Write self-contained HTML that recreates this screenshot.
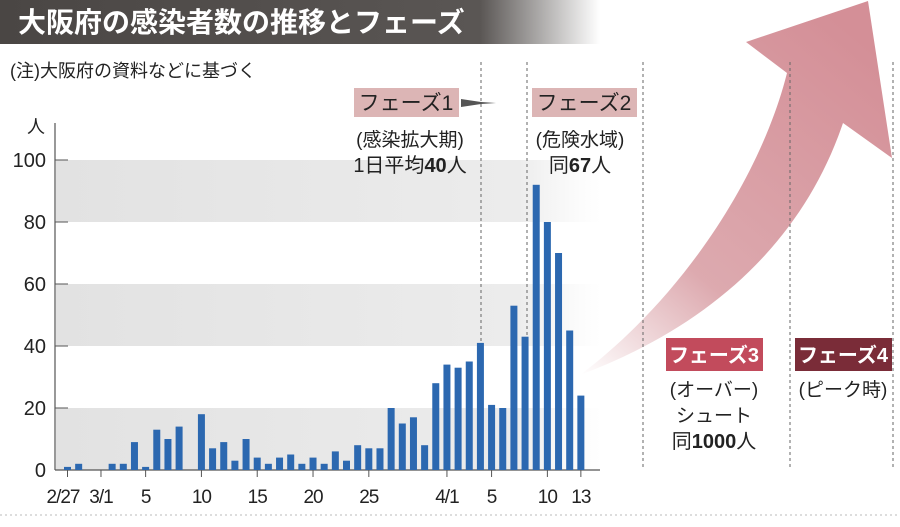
<!DOCTYPE html>
<html><head><meta charset="utf-8"><style>
html,body{margin:0;padding:0;background:#fff}
body{width:900px;height:522px;position:relative;overflow:hidden;font-family:"Liberation Sans","Noto Sans CJK JP",sans-serif}
svg text{font-family:"Liberation Sans","Noto Sans CJK JP",sans-serif}
</style></head><body>
<svg id="c" width="900" height="522" viewBox="0 0 900 522" xmlns="http://www.w3.org/2000/svg">
<defs>
<linearGradient id="tg" x1="0" x2="1" y1="0" y2="0"><stop offset="0" stop-color="#4a4644"/><stop offset="0.8" stop-color="#5a5654"/><stop offset="1" stop-color="#5a5654" stop-opacity="0"/></linearGradient>
<linearGradient id="bg" x1="0" x2="1" y1="0" y2="0"><stop offset="0" stop-color="#e2e2e2"/><stop offset="0.85" stop-color="#ececec"/><stop offset="1" stop-color="#f4f4f4" stop-opacity="0"/></linearGradient>
<linearGradient id="ag" x1="580" y1="375" x2="860" y2="40" gradientUnits="userSpaceOnUse"><stop offset="0" stop-color="#d9a0a6" stop-opacity="0"/><stop offset="0.35" stop-color="#d9a0a6" stop-opacity="0.9"/><stop offset="1" stop-color="#d48f97"/></linearGradient>
</defs>
<rect x="0" y="0" width="600" height="44" fill="url(#tg)"/>
<text x="18" y="32" font-size="28" font-weight="bold" fill="#fff">大阪府の感染者数の推移とフェーズ</text>
<text x="10" y="77" font-size="18" fill="#222">(注)大阪府の資料などに基づく</text>
<g id="bands"></g>
<path d="M580,375 C680,300 760,180 787,73 L746,42 L868,1 L892,158 L843,123 C800,250 700,330 580,375 Z" fill="url(#ag)"/>
<g id="dashes"></g>
<line x1="55" y1="123" x2="55" y2="470" stroke="#555" stroke-width="1.2"/>
<line x1="55" y1="470" x2="600" y2="470" stroke="#555" stroke-width="1.2"/>
<text x="36" y="133" font-size="18" text-anchor="middle" fill="#222">人</text>
<g id="yt"></g><g id="bars"></g><g id="xt"></g>
<line x1="0" y1="515" x2="900" y2="515" stroke="#bbb" stroke-dasharray="2,3"/>
<rect x="354" y="88" width="105" height="29" fill="#dcb5b5"/>
<text x="406" y="110" font-size="21" text-anchor="middle" fill="#222">フェーズ1</text>
<path d="M461,99 L461,107 L481,104 L496,103 L481,102 Z" fill="#555"/>
<text x="410" y="146" font-size="19" text-anchor="middle" fill="#222">(感染拡大期)</text>
<text x="410" y="172" font-size="20" text-anchor="middle" fill="#222">1日平均<tspan font-weight="bold">40</tspan>人</text>
<rect x="532" y="88" width="105" height="29" fill="#dcb5b5"/>
<text x="584" y="110" font-size="21" text-anchor="middle" fill="#222">フェーズ2</text>
<text x="580" y="146" font-size="19" text-anchor="middle" fill="#222">(危険水域)</text>
<text x="580" y="172" font-size="20" text-anchor="middle" fill="#222">同<tspan font-weight="bold">67</tspan>人</text>
<rect x="666" y="338" width="97" height="33" fill="#c24b5c"/>
<text x="714" y="362" font-size="20" font-weight="bold" text-anchor="middle" fill="#fff">フェーズ3</text>
<text x="714" y="396" font-size="19" text-anchor="middle" fill="#222">(オーバー)</text>
<text x="714" y="422" font-size="19" text-anchor="middle" fill="#222">シュート</text>
<text x="714" y="448" font-size="20" text-anchor="middle" fill="#222">同<tspan font-weight="bold">1000</tspan>人</text>
<rect x="795" y="338" width="97" height="33" fill="#7a2c38"/>
<text x="843" y="362" font-size="20" font-weight="bold" text-anchor="middle" fill="#fff">フェーズ4</text>
<text x="843" y="396" font-size="19" text-anchor="middle" fill="#222">(ピーク時)</text>
</svg>
<script>
const values=[1,2,0,0,2,2,9,1,13,10,14,0,18,7,9,3,10,4,2,4,5,2,4,2,6,3,8,7,7,20,15,17,8,28,34,33,35,41,21,20,53,43,92,80,70,45,24];
const yTicks=[0,20,40,60,80,100];
const xTickIdx=[0,3,7,12,17,22,27,34,38,43,46];
const xTickLabels=["2/27","3/1","5","10","15","20","25","4/1","5","10","13"];
const dashXs=[481,527,643,790,893];
const NS="http://www.w3.org/2000/svg";
const y=v=>470-v*3.1, x=i=>67.5+i*11.16;
function mk(t,a,p){const e=document.createElementNS(NS,t);for(const k in a)e.setAttribute(k,a[k]);p.appendChild(e);return e;}
const bands=document.getElementById('bands');
[[0,20],[40,60],[80,100]].forEach(b=>{const r=mk('rect',{x:56,y:y(b[1]),width:545,height:y(b[0])-y(b[1]),fill:'url(#bg)'},bands);

});
const dg=document.getElementById('dashes');
dashXs.forEach(dx=>{const l=mk('line',{x1:dx,y1:62,x2:dx,y2:470,stroke:'#666','stroke-dasharray':'3,3','stroke-width':1},dg);

});
const yt=document.getElementById('yt');
yTicks.forEach(v=>{const l=mk('line',{x1:55,y1:y(v),x2:68,y2:y(v),stroke:'#555'},yt);


const t=mk('text',{x:46,y:y(v)+7,'font-size':20,'text-anchor':'end',fill:'#222'},yt);t.textContent=v;

});
const bg=document.getElementById('bars');
values.forEach((v,i)=>{if(!v)return;const r=mk('rect',{x:x(i)-3.5,y:y(v),width:7,height:470-y(v),fill:'#2c68b0'},bg);

});
const xt=document.getElementById('xt');
xTickIdx.forEach((k,j)=>{const l=mk('line',{x1:x(k),y1:470,x2:x(k),y2:477,stroke:'#555'},xt);


const first=j===0;
const t=mk('text',{x:first?x(k)+12:x(k),y:503,'font-size':19,'letter-spacing':'-1','text-anchor':first?'end':'middle',fill:'#222'},xt);t.textContent=xTickLabels[j];

});
</script>
</body></html>
